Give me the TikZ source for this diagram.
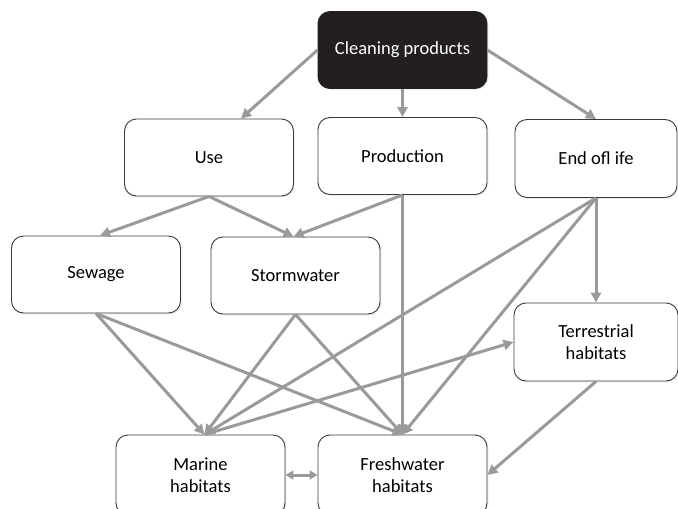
\documentclass[tikz,border=0pt]{standalone}
\usepackage{fontspec}
\setmainfont{Carlito}
\usetikzlibrary{arrows.meta, calc, shadows}
\definecolor{BoxLine}{HTML}{3A3A3A}
\definecolor{HeadFill}{HTML}{231F20}
\definecolor{FlowGray}{HTML}{9A9A9A}

\begin{document}
\begin{tikzpicture}[
    x=1pt, y=-1pt,
    font=\fontsize{18.5}{22}\selectfont,
    box/.style={draw=BoxLine, fill=white, rounded corners=12pt, align=center,
                line width=0.9pt, minimum width=169pt, minimum height=77pt,
                drop shadow={opacity=0.12, shadow xshift=1.5pt, shadow yshift=-1.5pt}},
    head/.style={box, fill=HeadFill, draw=HeadFill, text=white},
    flow/.style={-{Triangle[length=10pt, width=10pt]}, line width=3pt, FlowGray},
    both/.style={{Triangle[length=8pt, width=9pt]}-{Triangle[length=8pt, width=9pt]},
                 line width=3pt, FlowGray},
  ]
    \clip (0,0) rectangle (678,509);

    % =================== top ===================
    \node[head] (clean) at (402.5,50) {Cleaning products};

    % =================== stages ===================
    \node[box] (use)  at (209,157.5)   {Use};
    \node[box] (prod) at (402.5,156)   {Production};
    \node[box, minimum width=162pt, minimum height=78pt] (eol) at (596,158.5) {End ofl ife};

    % =================== pathways ===================
    \node[box] (sewage) at (96,274.5)    {Sewage};
    \node[box] (storm)  at (295.5,275.5) {Stormwater};
    \node[box, minimum width=164pt, minimum height=78pt] (terr) at (596,342) {Terrestrial\\habitats};

    % =================== receiving waters ===================
    \node[box, minimum height=80pt] (marine) at (200.5,475) {Marine\\habitats};
    \node[box, minimum height=80pt] (fresh)  at (402.5,475) {Freshwater\\habitats};

    % connectors
    \draw[flow] (clean.west) -- ($(use.north)+(32,0)$);
    \draw[flow] (clean) -- (prod);
    \draw[flow] (clean.east) -- (eol.north);

    \draw[flow] (use.south) -- ($(sewage.north)+(4,0)$);
    \draw[flow] (use.south) -- ($(storm.north)+(-2,0)$);
    \draw[flow] (prod.south) -- ($(storm.north)+(-2,0)$);
    \draw[flow] (prod.south) -- (fresh.north);

    \draw[flow] (eol.south) -- ($(marine.north)+(4,0)$);
    \draw[flow] (eol.south) -- (fresh.north);
    \draw[flow] (eol.south) -- (terr.north);

    \draw[flow] (sewage.south) -- ($(marine.north)+(4,0)$);
    \draw[flow] (sewage.south) -- (fresh.north);
    \draw[flow] (storm.south) -- ($(marine.north)+(4,0)$);
    \draw[flow] (storm.south) -- (fresh.north);

    \draw[flow] ($(marine.north)+(4,0)$) -- (terr.west);
    \draw[flow] (terr.south) -- (fresh.east);
    \draw[both] (marine.east) -- (fresh.west);
  \end{tikzpicture}
\end{document}
